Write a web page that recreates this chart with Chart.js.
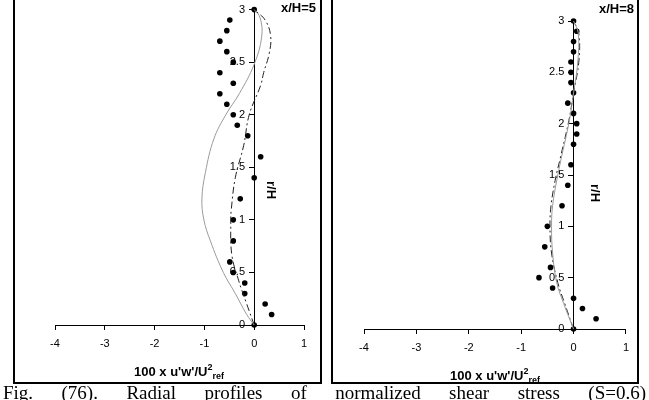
<!DOCTYPE html>
<html>
<head>
<meta charset="utf-8">
<script src="https://cdn.jsdelivr.net/npm/chart.js@4.4.1/dist/chart.umd.min.js"></script>
<style>
  body { margin: 0; width: 649px; height: 400px; overflow: hidden; background: #fff; position: relative;
         font-family: 'Liberation Sans', Arial, sans-serif; color: #000; }
  .panel { position: absolute; top: -20px; height: 404px; border: 2px solid #000; box-sizing: border-box; }
  canvas { position: absolute; top: 0; }
  .tag { position: absolute; font-weight: bold; font-size: 13px; white-space: nowrap; }
  .rot { transform: translate(-50%, -50%) rotate(90deg); }
  .xt { transform: translate(-50%, -50%); }
  sup, sub { font-size: 9px; line-height: 0; }
  .caption { position: absolute; left: 3px; top: 382px; width: 643px; font-family: 'Liberation Serif', 'Times New Roman', serif;
             font-size: 19px; text-align: justify; text-align-last: justify; white-space: nowrap; }
</style>
</head>
<body>
<div class="panel" style="left:13px;width:309px"></div>
<div class="panel" style="left:331px;width:308px"></div>
<canvas id="c5" width="305" height="382" style="left:15px"></canvas>
<canvas id="c8" width="304" height="382" style="left:333px"></canvas>

<div class="tag" style="right:333px;top:0px">x/H=5</div>
<div class="tag" style="right:15px;top:1px">x/H=8</div>
<div class="tag rot" style="left:271px;top:190px">r/H</div>
<div class="tag rot" style="left:595px;top:193px">r/H</div>
<div class="tag xt" style="left:179px;top:371px">100 x u'w'/U<sup>2</sup><sub>ref</sub></div>
<div class="tag xt" style="left:495px;top:375px">100 x u'w'/U<sup>2</sup><sub>ref</sub></div>
<div class="caption">Fig. (76). Radial profiles of normalized shear stress (S=0.6)</div>

<script>
// axis ticks
const xTickVals = [-4, -3, -2, -1, 0, 1];
const yTickVals = [0, 0.5, 1, 1.5, 2, 2.5, 3];

// x/H = 5 : measured points
const r5Dots  = [3.0, 2.9, 2.8, 2.7, 2.6, 2.5, 2.4, 2.3, 2.2, 2.1, 2.0, 1.9, 1.8, 1.6, 1.4, 1.2, 1.0, 0.8, 0.6, 0.5, 0.4, 0.3, 0.2, 0.1, 0];
const uw5Dots = [0, -0.49, -0.55, -0.69, -0.55, -0.42, -0.69, -0.42, -0.69, -0.55, -0.42, -0.34, -0.13, 0.13, 0, -0.28, -0.42, -0.42, -0.49, -0.42, -0.19, -0.19, 0.22, 0.35, 0];
// x/H = 5 : solid model curve
const r5Solid  = [0, 0.1, 0.3, 0.5, 0.8, 1.0, 1.2, 1.45, 1.77, 2.0, 2.2, 2.48, 2.74, 2.92, 3.0];
const uw5Solid = [0, -0.15, -0.38, -0.62, -0.88, -1.01, -1.05, -0.98, -0.81, -0.57, -0.3, 0, 0.15, 0.12, 0];
// x/H = 5 : dash-dot model curve
const r5Dash  = [0, 0.2, 0.42, 0.67, 1.0, 1.1, 1.4, 1.71, 2.0, 2.28, 2.4, 2.58, 2.75, 2.9, 3.0];
const uw5Dash = [0, -0.15, -0.31, -0.45, -0.47, -0.46, -0.38, -0.21, -0.1, 0.13, 0.19, 0.3, 0.33, 0.22, 0];

// x/H = 8 : measured points
const r8Dots  = [3.0, 2.9, 2.8, 2.7, 2.6, 2.5, 2.4, 2.3, 2.2, 2.1, 2.0, 1.9, 1.8, 1.6, 1.4, 1.2, 1.0, 0.8, 0.6, 0.5, 0.4, 0.3, 0.2, 0.1, 0];
const uw8Dots = [0, 0.06, 0, 0, -0.05, -0.05, -0.05, 0, -0.11, 0, 0.06, 0.06, 0, -0.05, -0.11, -0.22, -0.50, -0.55, -0.44, -0.66, -0.40, 0, 0.17, 0.43, 0];
// x/H = 8 : model curves
const r8Lines  = [0, 0.25, 0.45, 0.74, 1.0, 1.2, 1.45, 1.65, 2.03, 2.3, 2.6, 2.88, 3.0];
const uw8Solid = [0, -0.19, -0.32, -0.40, -0.42, -0.40, -0.32, -0.24, -0.08, 0, 0.08, 0.09, 0];
const uw8Dash  = [0, -0.17, -0.30, -0.42, -0.45, -0.43, -0.35, -0.26, -0.09, 0, 0.1, 0.1, 0];

const pts = (xs, ys) => xs.map((x, i) => ({x: x, y: ys[i]}));
const tickFont = {family: "'Liberation Sans', Arial, sans-serif", size: 11};

function makeChart(id, dots, solid, dash, pad) {
    return new Chart(document.getElementById(id), {
        type: 'scatter',
        data: {
            datasets: [{
                data: solid,
                showLine: true,
                borderColor: '#9a9a9a',
                borderWidth: 1,
                pointRadius: 0,
                tension: 0.4,
                clip: false
            }, {
                data: dash,
                showLine: true,
                borderColor: '#222',
                borderWidth: 1,
                borderDash: [7, 3, 2, 3],
                pointRadius: 0,
                tension: 0.4,
                clip: false
            }, {
                data: dots,
                pointRadius: 2.8,
                pointBackgroundColor: '#000',
                pointBorderWidth: 0,
                clip: false
            }]
        },
        options: {
            responsive: false,
            animation: false,
            layout: {padding: pad},
            plugins: {legend: {display: false}, tooltip: {enabled: false}},
            scales: {
                x: {
                    min: -4, max: 1,
                    position: {y: 0},
                    afterFit: s => { s.height = 0; },
                    afterBuildTicks: s => { s.ticks = xTickVals.map(v => ({value: v})); },
                    grid: {drawOnChartArea: false, drawTicks: true, tickLength: 4, color: '#000'},
                    border: {display: true, color: '#000', width: 1},
                    ticks: {font: tickFont, color: '#000', padding: 8, maxRotation: 0, autoSkip: false}
                },
                y: {
                    min: 0, max: 3,
                    position: {x: 0},
                    afterFit: s => { s.width = 0; },
                    afterBuildTicks: s => { s.ticks = yTickVals.map(v => ({value: v})); },
                    grid: {drawOnChartArea: false, drawTicks: true, tickLength: 5, color: '#000'},
                    border: {display: true, color: '#000', width: 1},
                    // labels sit left of the axis line, clear of the tick marks
                    ticks: {font: tickFont, color: '#000', autoSkip: false,
                            callback: v => String(v) + '   '}
                }
            }
        }
    });
}

makeChart('c5', pts(uw5Dots, r5Dots), pts(uw5Solid, r5Solid), pts(uw5Dash, r5Dash),
          {left: 40, right: 16, top: 6, bottom: 57});
makeChart('c8', pts(uw8Dots, r8Dots), pts(uw8Solid, r8Lines), pts(uw8Dash, r8Lines),
          {left: 31, right: 8, top: 21, bottom: 53});
</script>
</body>
</html>
